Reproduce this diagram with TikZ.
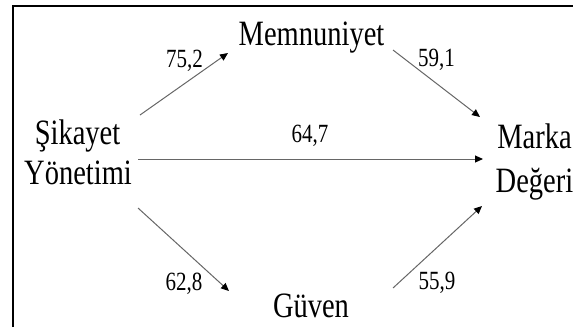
\documentclass[tikz,border=0pt]{standalone}
\usepackage{fontspec}
\setmainfont{Liberation Serif}
\usetikzlibrary{arrows.meta}
\newcommand\vstretch[2]{\scalebox{1}[#1]{#2}}
\tikzset{
  word/.style={anchor=base, inner sep=0pt, font=\fontsize{28.5}{30}\selectfont},
  num/.style={anchor=base, inner sep=0pt, font=\fontsize{21}{23}\selectfont},
  link/.style={draw=black!60, line width=1pt,
    -{Triangle[length=8pt,width=7pt,fill=black,color=black]}},
  frameline/.style={line width=2.2pt}
}
\begin{document}
\begin{tikzpicture}[x=1pt,y=-1pt]
\useasboundingbox (0,0) rectangle (573,327);
\draw[frameline] (13,327) -- (13,6) -- (573,6);

% words
\node[word] (mem) at (311.5,45) {\vstretch{1.25}{Memnuniyet}};
\node[word] (guv) at (311,317) {\vstretch{1.25}{Güven}};
\node[word] (sik1) at (77.5,144) {\vstretch{1.25}{Şikayet}};
\node[word] (sik2) at (78,184.5) {\vstretch{1.25}{Yönetimi}};
\node[word] (mar1) at (534.5,148) {\vstretch{1.25}{Marka}};
\node[word] (mar2) at (534.5,192) {\vstretch{1.25}{Değeri}};

% connector end points
\coordinate (sA) at (140,115);
\coordinate (mA) at (228,53);
\coordinate (mB) at (393,50);
\coordinate (kA) at (480,117);
\coordinate (sB) at (138,159);
\coordinate (kB) at (483,159);
\coordinate (sC) at (138,208);
\coordinate (gA) at (229,291);
\coordinate (gB) at (393,288);
\coordinate (kC) at (482,206);

\draw[link] (sA) -- (mA);
\draw[link] (mB) -- (kA);
\draw[link] (sB) -- (kB);
\draw[link] (sC) -- (gA);
\draw[link] (gB) -- (kC);

% numbers
\node[num] (n1) at (184.5,67) {\vstretch{1.25}{75,2}};
\node[num] (n2) at (436.5,66) {\vstretch{1.25}{59,1}};
\node[num] (n3) at (310,142.7) {\vstretch{1.25}{64,7}};
\node[num] (n4) at (184,290) {\vstretch{1.25}{62,8}};
\node[num] (n5) at (437,289) {\vstretch{1.25}{55,9}};
\end{tikzpicture}
\end{document}
